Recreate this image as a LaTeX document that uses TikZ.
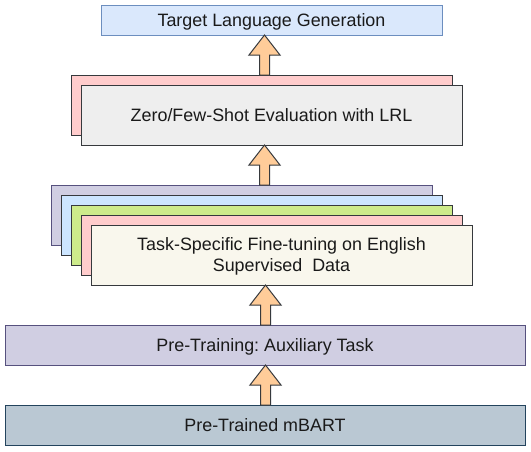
\documentclass[tikz,border=0pt]{standalone}
\usepackage{fontspec}
\setmainfont{Liberation Sans}
\usetikzlibrary{calc}
\frenchspacing
\definecolor{tgtfill}{HTML}{DAE8FC}
\definecolor{tgtdraw}{HTML}{6C8EBF}
\definecolor{pinkfill}{HTML}{FFCCCC}
\definecolor{darkdraw}{HTML}{36393D}
\definecolor{grayfill}{HTML}{EEEEEE}
\definecolor{purplefill}{HTML}{D0CEE2}
\definecolor{purpledraw}{HTML}{56517E}
\definecolor{bluefill}{HTML}{CCE5FF}
\definecolor{greenfill}{HTML}{CDEB8B}
\definecolor{creamfill}{HTML}{F9F7ED}
\definecolor{mbfill}{HTML}{BAC8D3}
\definecolor{mbdraw}{HTML}{23445D}
\definecolor{arrowfill}{HTML}{FFCC99}
\definecolor{txt}{HTML}{1A1A1A}
\newcommand\blockup[3]{%
  \draw[blockarrow] let \p1=(#1.north), \p2=(#2.south) in
    (#3pt-5pt,\y1) -- (#3pt-5pt,\y2-20pt) -- (#3pt-15.5pt,\y2-20pt) -- (#3pt,\y2)
    -- (#3pt+15.5pt,\y2-20pt) -- (#3pt+5pt,\y2-20pt) -- (#3pt+5pt,\y1) -- cycle;}
\begin{document}
\frenchspacing
\begin{tikzpicture}[x=1pt,y=-1pt,
  box/.style={draw=darkdraw, line width=1pt, anchor=north west, inner sep=0pt, outer sep=0pt,
    font=\fontsize{17.9}{21.5}\selectfont\frenchspacing, text=txt, align=center,
    text height=15pt, text depth=1.6pt},
  blockarrow/.style={draw=darkdraw, fill=arrowfill, line width=1pt, line join=miter}]
\useasboundingbox (0,0) rectangle (531,451);
% top
\node[box, fill=tgtfill, draw=tgtdraw, minimum width=341pt, minimum height=30pt] (tgt) at (101,5) {Target Language Generation};
% zero/few-shot
\node[box, fill=pinkfill, minimum width=381pt, minimum height=60pt] (zb) at (71,75) {};
\node[box, fill=grayfill, minimum width=381pt, minimum height=60pt] (zf) at (81,85) {Zero/Few-Shot Evaluation with LRL};
% task stack
\node[box, fill=purplefill, draw=purpledraw, minimum width=381pt, minimum height=60pt] (s1) at (51,185) {};
\node[box, fill=bluefill, minimum width=381pt, minimum height=60pt] (s2) at (61,195) {};
\node[box, fill=greenfill, minimum width=381pt, minimum height=60pt] (s3) at (71,205) {};
\node[box, fill=pinkfill, minimum width=381pt, minimum height=60pt] (s4) at (81,215) {};
\node[box, fill=creamfill, minimum width=381pt, minimum height=60pt, text height=35pt] (s5) at (91,225) {Task-Specific Fine-tuning on English\\Supervised\ \ Data};
% pretraining
\node[box, fill=purplefill, draw=purpledraw, minimum width=520pt, minimum height=40pt] (pre) at (5,325) {Pre-Training: Auxiliary Task};
\node[box, fill=mbfill, draw=mbdraw, minimum width=520pt, minimum height=40pt] (mb) at (5,405) {Pre-Trained mBART};
% arrows
\blockup{zb}{tgt}{264.5}
\blockup{s1}{zf}{264.5}
\blockup{pre}{s5}{265.5}
\blockup{mb}{pre}{265.5}
\end{tikzpicture}
\end{document}
